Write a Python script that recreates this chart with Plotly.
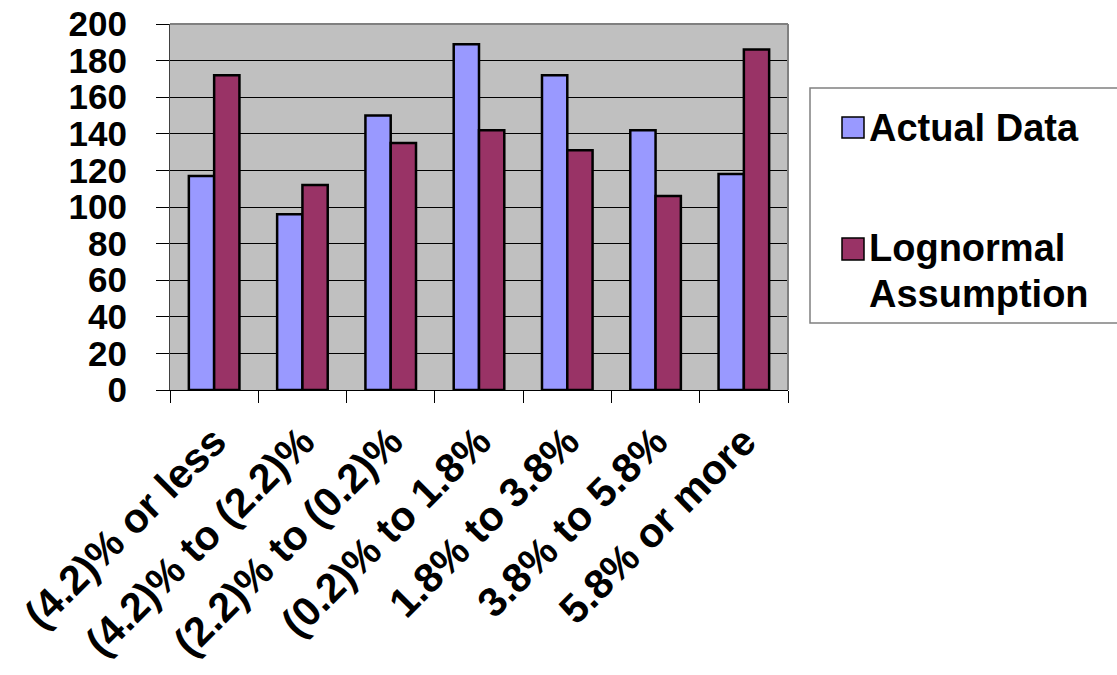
import plotly.graph_objects as go

# Return buckets and counts per bucket
categories = ["(4.2)% or less", "(4.2)% to (2.2)%", "(2.2)% to (0.2)%",
              "(0.2)% to 1.8%", "1.8% to 3.8%", "3.8% to 5.8%", "5.8% or more"]
actual_data = [117, 96, 150, 189, 172, 142, 118]
lognormal = [172, 112, 135, 142, 131, 106, 186]
series_names = ["Actual Data", "Lognormal Assumption"]
y_ticks = [0, 20, 40, 60, 80, 100, 120, 140, 160, 180, 200]

BLUE = "#9999FF"
MAROON = "#993366"
FONT = "Liberation Sans, Arial, sans-serif"

fig = go.Figure()
fig.add_trace(go.Bar(x=categories, y=actual_data, name=series_names[0],
                     marker=dict(color=BLUE, line=dict(color="black", width=2.5))))
fig.add_trace(go.Bar(x=categories, y=lognormal, name=series_names[1],
                     marker=dict(color=MAROON, line=dict(color="black", width=2.5))))

W, H = 1117, 675
L, R, T, B = 170, 329, 24, 285
pw, ph = W - L - R, H - T - B


def px_x(p):
    return (p - L) / pw


def px_y(p):
    return (H - B - p) / ph


fig.update_layout(
    width=W, height=H,
    margin=dict(l=L, r=R, t=T, b=B, pad=0, autoexpand=False),
    paper_bgcolor="white",
    plot_bgcolor="#C0C0C0",
    barmode="group",
    bargap=0.427,
    bargroupgap=0,
    showlegend=False,
    font=dict(family=FONT, color="black", weight="bold"),
    xaxis=dict(
        type="category",
        automargin=False,
        tickangle=-45,
        tickson="boundaries",
        ticks="outside", ticklen=12, tickcolor="black", tickwidth=1,
        showline=True, linecolor="black", linewidth=1,
        showgrid=False,
        ticklabelstandoff=10,
        tickfont=dict(size=41, family=FONT, weight="bold"),
    ),
    yaxis=dict(
        range=[0, 200],
        automargin=False,
        tickvals=y_ticks,
        ticks="outside", ticklen=13, tickcolor="black", tickwidth=1,
        showline=True, linecolor="#404040", linewidth=1,
        showgrid=True, gridcolor="black", gridwidth=1,
        zeroline=False,
        ticklabelstandoff=22,
        tickfont=dict(size=35, family=FONT, weight="bold"),
    ),
)

# Plot area frame (top and right edges in grey)
fig.add_shape(type="line", xref="paper", yref="paper", x0=0, x1=1, y0=1, y1=1,
              line=dict(color="#808080", width=2), layer="above")
fig.add_shape(type="line", xref="paper", yref="paper", x0=1, x1=1, y0=0, y1=1,
              line=dict(color="#808080", width=2), layer="above")

# Legend box
fig.add_shape(type="rect", xref="paper", yref="paper",
              x0=px_x(810), x1=px_x(1125), y0=px_y(323), y1=px_y(88),
              line=dict(color="#808080", width=1.5), fillcolor="white", layer="above")

legend_rows = [
    (BLUE, 117, 138, [(series_names[0], 128)]),
    (MAROON, 238, 260, [("Lognormal", 248), ("Assumption", 294)]),
]
for color, top, bot, lines in legend_rows:
    fig.add_shape(type="rect", xref="paper", yref="paper",
                  x0=px_x(842), x1=px_x(864), y0=px_y(bot), y1=px_y(top),
                  line=dict(color="black", width=1.5), fillcolor=color, layer="above")
    for text, cy in lines:
        fig.add_annotation(x=px_x(867), y=px_y(cy), xref="paper", yref="paper",
                           text=text, showarrow=False, xanchor="left", yanchor="middle",
                           font=dict(size=38, family=FONT, color="black", weight="bold"))

fig.write_html("out.html")
